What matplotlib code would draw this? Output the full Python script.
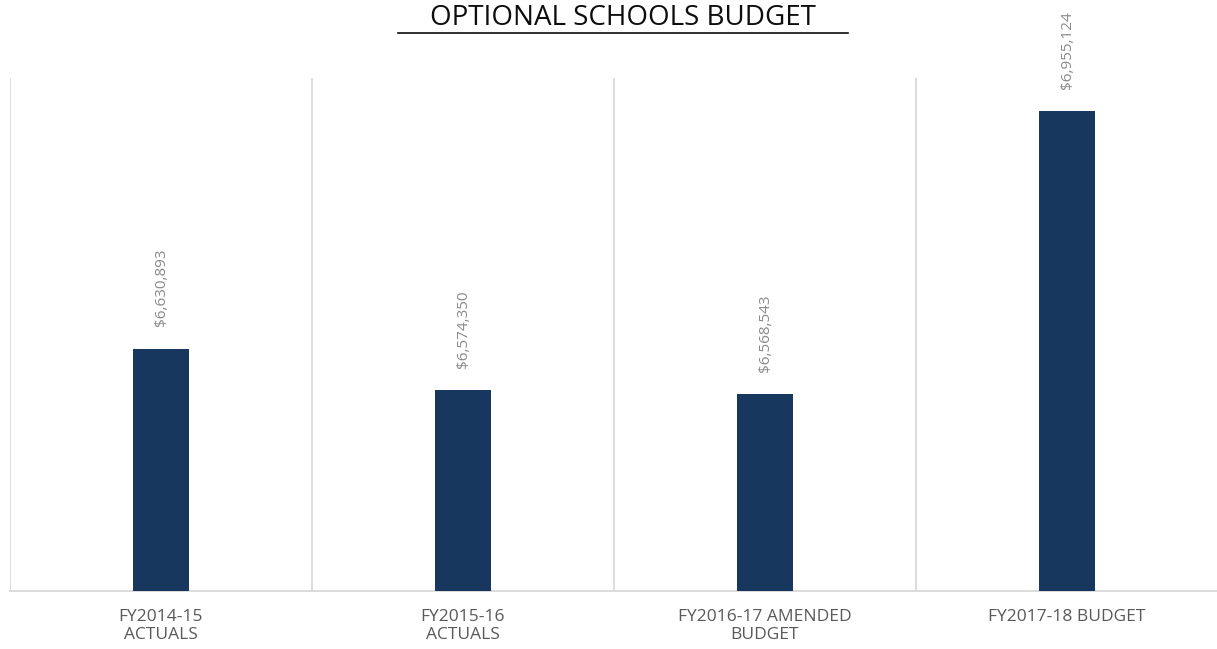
import matplotlib
matplotlib.use("Agg")
import matplotlib.pyplot as plt

categories = ["FY2014-15\nACTUALS", "FY2015-16\nACTUALS", "FY2016-17 AMENDED\nBUDGET", "FY2017-18 BUDGET"]
values = [6630893, 6574350, 6568543, 6955124]
labels = ["$6,630,893", "$6,574,350", "$6,568,543", "$6,955,124"]

plt.rcParams['font.family'] = ['Open Sans', 'DejaVu Sans']

fig = plt.figure(figsize=(12.17, 6.49), dpi=100)
ax = fig.add_axes([10/1217, 58/649, 1208/1217, 513/649])

x = list(range(len(categories)))
bars = ax.bar(x, values, width=0.185, color="#17375e", zorder=3)
ax.set_ylim(6300000, 7000000)
ax.set_xlim(-0.5, len(categories) - 0.5)

for b in [i - 0.5 for i in range(len(categories) + 1)]:
    ax.axvline(b, color="#d9d9d9", lw=1.3, zorder=1)

for xi, v, lab in zip(x, values, labels):
    ax.annotate(lab, (xi, v), xytext=(0, 16), textcoords="offset points",
                rotation=90, ha="center", va="bottom", fontsize=11,
                color="#8a8a8a")

for s in ["top", "left", "right"]:
    ax.spines[s].set_visible(False)
ax.spines["bottom"].set_color("#d9d9d9")
ax.spines["bottom"].set_linewidth(1.3)
ax.set_yticks([])
ax.set_xticks(x)
ax.set_xticklabels(categories, fontsize=12.5, color="#595959", linespacing=1.15)
ax.tick_params(axis="x", length=0, pad=13)

fig.text(623/1217, 1 - 18/649, "OPTIONAL SCHOOLS BUDGET", ha="center", va="center",
         fontsize=20, color="#0d0d0d")
fig.add_artist(plt.Line2D([398/1217, 848/1217], [1 - 33/649, 1 - 33/649],
                          color="#0d0d0d", lw=1.2, transform=fig.transFigure))

fig.savefig("out.png", dpi=100)
